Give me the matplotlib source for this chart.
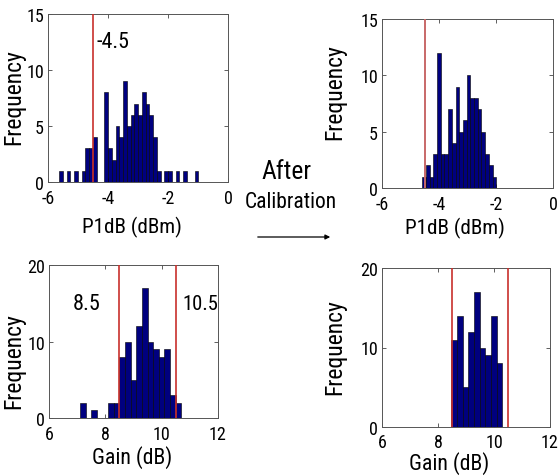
import numpy as np
import matplotlib
matplotlib.use("Agg")
import matplotlib.pyplot as plt
import matplotlib.font_manager as fm
from matplotlib.patches import FancyArrowPatch

plt.rcParams['axes.unicode_minus'] = False

# ---- data ----
# P1dB before calibration (37 bins)
p1_before_range = (-5.63, -0.99)
p1_before_counts = [1, 0, 1, 0, 1, 0, 1, 3, 3, 4, 0, 0, 8, 3, 2, 5, 4, 9, 5, 6,
                    7, 6, 8, 7, 6, 4, 1, 0, 1, 1, 0, 1, 0, 1, 0, 0, 1]
# P1dB after calibration (20 bins)
p1_after_range = (-4.59, -1.99)
p1_after_counts = [1, 2, 1, 3, 12, 3, 3, 7, 4, 9, 5, 6, 10, 8, 8, 7, 5, 3, 2, 1]
# Gain before calibration (18 bins)
gain_before_range = (7.1, 10.7)
gain_before_counts = [2, 0, 1, 0, 0, 2, 2, 8, 10, 5, 12, 17, 10, 9, 8, 9, 3, 2]
# Gain after calibration (9 bins)
gain_after_range = (8.47, 10.3)
gain_after_counts = [11, 14, 5, 12, 17, 10, 9, 14, 8]

p1_limit = -4.5
gain_limits = [8.5, 10.5]
p1_ticks = [-6, -4, -2, 0]
gain_ticks = [6, 8, 10, 12]

BAR = '#00007f'
RED = '#c8302c'
RED2 = '#c86868'


# ---- pick a narrow sans font if one is installed ----
def pick_font():
    fl = fm.fontManager.ttflist
    def ok(f):
        return f.style == 'normal' and f.weight in (400, 'normal', 'regular')
    for nm in ['Liberation Sans Narrow', 'Arial Narrow', 'Roboto Condensed',
               'Noto Sans Condensed', 'Open Sans Condensed', 'Noto Sans SemiCondensed',
               'DejaVu Sans Condensed']:
        for f in fl:
            if f.name == nm and ok(f):
                return f.fname
    for nm in ['Liberation Sans', 'Roboto', 'Noto Sans', 'Open Sans', 'DejaVu Sans']:
        for f in fl:
            if f.name == nm and ok(f) and f.stretch in ('condensed', 'semi-condensed'):
                return f.fname
    for f in fl:
        if f.name == 'Liberation Sans' and ok(f):
            return f.fname
    return fm.findfont('DejaVu Sans')


FP = fm.FontProperties(fname=pick_font())

fig = plt.figure(figsize=(5.58, 4.77), dpi=100)
W, H = 558, 477
R = fig.canvas.get_renderer()


def fit(s, target_w, maxpt):
    t = fig.text(0, 0, s, fontproperties=FP, fontsize=20)
    w = t.get_window_extent(renderer=R).width
    t.remove()
    return min(20 * target_w / w, maxpt)


def add_ax(l, t, r, b):
    return fig.add_axes([l / W, (H - b) / H, (r - l) / W, (b - t) / H])


TICK_PT = fit('-6', 14, 13)


def style(ax, xpad):
    ax.tick_params(direction='in', top=True, right=True, length=3, width=0.6,
                   colors='#444444', labelcolor='black')
    ax.tick_params(axis='x', pad=xpad)
    ax.tick_params(axis='y', pad=3)
    for lab in ax.get_xticklabels() + ax.get_yticklabels():
        lab.set_fontproperties(FP)
        lab.set_fontsize(TICK_PT)
    for s in ax.spines.values():
        s.set_linewidth(0.7)
        s.set_color('#555555')


def hist(ax, rng, counts):
    edges = np.linspace(rng[0], rng[1], len(counts) + 1)
    ax.bar(edges[:-1], counts, width=np.diff(edges), align='edge',
           color=BAR, edgecolor='black', linewidth=0.4, zorder=2)


ax1 = add_ax(48, 15, 228, 183)
hist(ax1, p1_before_range, p1_before_counts)
ax1.axvline(p1_limit, color=RED, lw=1.2, zorder=3)
ax1.set_xlim(-6, 0); ax1.set_ylim(0, 15)
ax1.set_xticks(p1_ticks); ax1.set_yticks([0, 5, 10, 15])

ax2 = add_ax(382, 20, 553, 189)
hist(ax2, p1_after_range, p1_after_counts)
ax2.axvline(p1_limit, color=RED2, lw=1.4, zorder=3)
ax2.set_xlim(-6, 0); ax2.set_ylim(0, 15)
ax2.set_xticks(p1_ticks); ax2.set_yticks([0, 5, 10, 15])

ax3 = add_ax(49, 266, 218, 419)
hist(ax3, gain_before_range, gain_before_counts)
for g in gain_limits:
    ax3.axvline(g, color=RED, lw=1.2, zorder=3)
ax3.set_xlim(6, 12); ax3.set_ylim(0, 20)
ax3.set_xticks(gain_ticks); ax3.set_yticks([0, 10, 20])

ax4 = add_ax(382, 269, 550, 428)
hist(ax4, gain_after_range, gain_after_counts)
for g in gain_limits:
    ax4.axvline(g, color=RED, lw=1.2, zorder=3)
ax4.set_xlim(6, 12); ax4.set_ylim(0, 20)
ax4.set_xticks(gain_ticks); ax4.set_yticks([0, 10, 20])

style(ax1, 5); style(ax2, 5); style(ax3, 5); style(ax4, 4)


def ftext(x, y, s, w, maxpt, rotation=0, va='center'):
    fig.text(x / W, (H - y) / H, s, ha='center', va=va, rotation=rotation,
             fontproperties=FP, fontsize=fit(s, w, maxpt))


# value annotations
ftext(113, 43, '-4.5', 33, 21)
ftext(86.5, 305, '8.5', 28, 16)
ftext(200, 305, '10.5', 36, 16)

# axis labels
ftext(14, 97, 'Frequency', 110, 17, rotation=90)
ftext(335, 92, 'Frequency', 118, 17, rotation=90)
ftext(14, 361, 'Frequency', 96, 17, rotation=90)
ftext(335, 347, 'Frequency', 113, 17, rotation=90)
ftext(132, 227, 'P1dB (dBm)', 100, 19)
ftext(455, 228, 'P1dB (dBm)', 100, 19)
ftext(132, 458, 'Gain (dB)', 80, 19)
ftext(449, 464, 'Gain (dB)', 80, 19)

# after calibration note with arrow
ftext(286, 172, 'After', 50, 19)
ftext(291, 202, 'Calibration', 92, 19)
fig.patches.append(FancyArrowPatch(
    (255 / W, (H - 238) / H), (333 / W, (H - 238) / H),
    transform=fig.transFigure, arrowstyle='-|>', mutation_scale=7,
    color='black', lw=0.9))

fig.savefig('out.png', dpi=100)
